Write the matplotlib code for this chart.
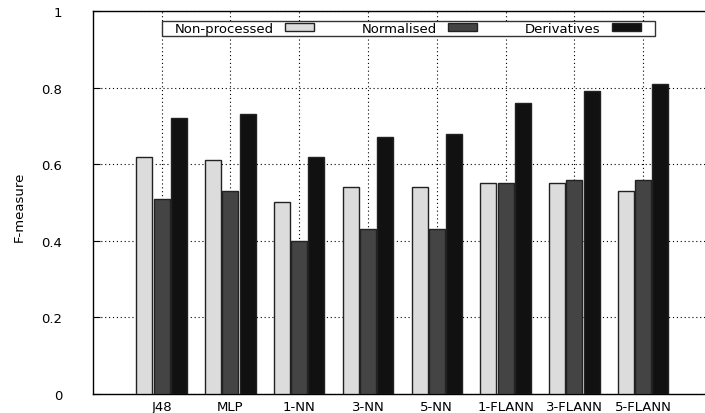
import numpy as np
import matplotlib as mpl
mpl.use('Agg')
import matplotlib.pyplot as plt
from matplotlib.patches import Rectangle

classifiers = ['J48', 'MLP', '1-NN', '3-NN', '5-NN', '1-FLANN', '3-FLANN', '5-FLANN']
non_processed = [0.62, 0.61, 0.50, 0.54, 0.54, 0.55, 0.55, 0.53]
normalised = [0.51, 0.53, 0.40, 0.43, 0.43, 0.55, 0.56, 0.56]
derivatives = [0.72, 0.73, 0.62, 0.67, 0.68, 0.76, 0.79, 0.81]

series_names = ['Non-processed', 'Normalised', 'Derivatives']
colors = ['#dcdcdc', '#444444', '#111111']

plt.rcParams['font.family'] = 'DejaVu Sans'
plt.rcParams['font.size'] = 9

fig = plt.figure(figsize=(7.05, 4.14), dpi=100)
ax = fig.add_axes([0.1315, 0.046, 1.0099 - 0.1315, 0.925])

x = np.arange(len(classifiers))
w = 0.25
for k, (vals, name, c) in enumerate(zip([non_processed, normalised, derivatives], series_names, colors)):
    ax.bar(x + (k - 1) * w, vals, w * 0.93, color=c, edgecolor='#222222',
           linewidth=1.0, label=name, zorder=3)

ax.set_xlim(-1, 8)
ax.set_ylim(0, 1)
ax.set_xticks(x)
ax.set_xticklabels(classifiers)
ax.set_yticks([0, 0.2, 0.4, 0.6, 0.8, 1])
ax.set_yticklabels(['0', '0.2', '0.4', '0.6', '0.8', '1'])
ax.tick_params(axis='y', direction='in', length=5, pad=22, labelsize=9.5)
ax.tick_params(axis='x', direction='in', length=0, pad=4, labelsize=9.5)
for lab in ax.get_yticklabels():
    lab.set_horizontalalignment('right')
ax.grid(True, linestyle=(0, (1, 2.5)), color='black', linewidth=0.8, zorder=0)
ax.spines['right'].set_visible(False)
for s in ['left', 'top', 'bottom']:
    ax.spines[s].set_linewidth(1.0)

fig.text(0.028, 0.5, 'F-measure', rotation=90, va='center', ha='center', fontsize=9.5)

# key box like gnuplot: text first, sample after
box = Rectangle((162 / 705, 1 - 37 / 414), 493 / 705, 15 / 414, transform=fig.transFigure,
                facecolor='white', edgecolor='#333333', linewidth=1.0, zorder=4, clip_on=False)
ax.add_artist(box)
leg = ax.legend(loc='center left', ncol=3, markerfirst=False,
                bbox_to_anchor=(175 / 705, 1 - 29.5 / 414),
                bbox_transform=fig.transFigure, frameon=False,
                handlelength=2.2, handleheight=0.55, borderpad=0, handletextpad=0.85,
                columnspacing=3.6, fontsize=9.5, borderaxespad=0)
leg.set_zorder(5)

plt.savefig('out.png', dpi=100)
